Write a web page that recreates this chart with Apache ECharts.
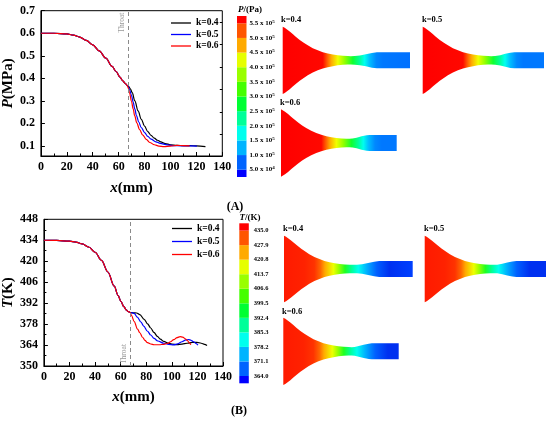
<!DOCTYPE html>
<html><head><meta charset="utf-8">
<script src="https://cdn.jsdelivr.net/npm/echarts@6/dist/echarts.min.js"></script>
<style>html,body{margin:0;padding:0;background:#fff}#c{width:550px;height:424px}</style>
</head><body><div id="c"></div>
<script>
// ---------------- data ----------------
const seriesNames = ['k=0.4', 'k=0.5', 'k=0.6'];
const xTicks = [0, 20, 40, 60, 80, 100, 120, 140];
const pTicks = [0.1, 0.2, 0.3, 0.4, 0.5, 0.6, 0.7];
const pMinorTicks = [0.15, 0.25, 0.35, 0.45, 0.55, 0.65];
const tTicks = [350, 364, 378, 392, 406, 420, 434, 448];
const throatX = 67.3;

const pCommon = [[0,0.600],[10,0.600],[20,0.597],[25,0.592],[30,0.583],[35,0.568],[40,0.548],[45,0.522],[50,0.490],[55,0.453],[58,0.430],[61,0.405],[63,0.390],[65,0.378],[66.5,0.369]];
const pTail04 = [[68,0.362],[69,0.353],[70.5,0.336],[72.5,0.300],[75,0.255],[77.5,0.218],[80,0.188],[82.5,0.163],[85,0.147],[87.5,0.134],[90,0.125],[92.5,0.118],[96,0.110],[100,0.105],[105,0.102],[110,0.101],[115,0.101],[120,0.100],[127,0.097]];
const pTail05 = [[67.5,0.362],[68.5,0.348],[70,0.322],[71.2,0.294],[72.5,0.264],[73.7,0.235],[75.5,0.206],[77.5,0.181],[80,0.159],[82.5,0.142],[85,0.130],[88.8,0.118],[92,0.111],[97.7,0.104],[103,0.101],[108,0.100],[115,0.100],[120.4,0.099]];
const pTail06 = [[67.2,0.360],[68.5,0.332],[69.9,0.298],[71.2,0.264],[72.4,0.234],[74,0.202],[76.2,0.172],[78.5,0.149],[81.3,0.129],[84,0.115],[87.6,0.105],[91,0.099],[95,0.097],[100,0.099],[105,0.102],[110,0.101],[114.8,0.100]];

const tCommon = [[0,434],[10,433.9],[20,433.4],[25,432.8],[30,431.6],[35,429.5],[40,426],[45,420.6],[50,412.8],[55,403.3],[58,397],[60.3,393],[62.5,389.6],[64.5,387.4],[66,386.3],[67.5,385.7]];
const tTail04 = [[70,385.5],[72.5,385.4],[75,384.3],[78.4,381.2],[81,378.2],[83.5,375.4],[86,372.5],[88.7,369.8],[91,367.9],[93.8,366.4],[97,365.3],[100,364.7],[104,364.3],[108,364.6],[112,365.2],[116,365.8],[119.6,365.8],[123,365.2],[125.5,364.5],[127.5,363.7]];
const tTail05 = [[69,385.5],[70.6,385.1],[73,382.6],[75.8,379.4],[78,376.6],[81,373.2],[83.5,370.7],[86.1,368.4],[89,366.7],[93.8,365.2],[97.5,364.5],[101.5,364.1],[104.5,364.8],[108,366.2],[111,367.4],[113.1,367.7],[115,367.2],[117,366.2],[119,365],[120.4,363.9]];
const tTail06 = [[68.5,383.6],[70.6,379.7],[73.2,374.6],[75,372.2],[77.1,369.2],[79,367.1],[81,365.6],[83.5,364.7],[86.1,364.2],[90,364.2],[93.8,364.5],[97,365.2],[99,366.2],[101.5,367.6],[104.1,369],[106.5,369.6],[108.5,369.3],[110.5,368.2],[112,367.1],[114,365.3],[114.8,364.2]];

// colour bar levels (label values, bottom to top)
const pLevels = [5.0e4, 1.0e5, 1.5e5, 2.0e5, 2.5e5, 3.0e5, 3.5e5, 4.0e5, 4.5e5, 5.0e5, 5.5e5];
const tLevels = [364.0, 371.1, 378.2, 385.3, 392.4, 399.5, 406.6, 413.7, 420.8, 427.9, 435.0];
const bandSizes = [0.5, 1, 1, 1, 1, 1, 1, 1, 1, 1, 1, 0.5];

// nozzle geometry: [axial position mm, half height mm]
const nozzleLengths = [127, 120.4, 114.8];
const nozzleInletHalf = 33.7;
const nozzleConv = [[0,33.7],[2,32.6],[4,31.2],[7,28.9],[10,26.3],[13,23.7],[17,20.5],[21,17.6],[25,15],[30,12.2],[35,10],[40,8.2],[45,6.8],[50,5.8],[55,5],[60,4.5],[65,4.25],[68,4.2]];
const nozzleDiv = [
  [[72,4.35],[77,4.8],[83,6],[89,7.3],[94,8],[127,8]],
  [[72,4.4],[77,5.2],[82,6.5],[87,7.6],[91,8],[120.4,8]],
  [[71,4.4],[75,5.3],[80,6.7],[85,7.7],[88,8],[114.8,8]]
];

// ---------------- styles ----------------
const FONT = "'Liberation Serif','Times New Roman',serif";
const lineColors = ['#000000', '#0000ff', '#ff0000'];
const bandColors = ['#0000ff','#0064ff','#00b4ff','#00ffee','#00ff99','#00ff33','#44ff00','#99ff00','#e6ff00','#ffaa00','#ff5500','#ff0000'];
const pContourStops = [[0,'#ff0000'],[40,'#ff0800'],[44,'#ff5500'],[48.6,'#ffaa00'],[55,'#f0ff00'],[62,'#90ff00'],[70,'#10ff30'],[76.7,'#00ff99'],[81.7,'#00ffee'],[86.6,'#00c0ff'],[93.3,'#0088ff'],[100,'#0078ff'],[127,'#0070ff']];
const tContourStops = [[0,'#ff1a00'],[20,'#ff2200'],[30,'#ff3300'],[36,'#ff6600'],[40.5,'#ffaa00'],[48.7,'#eeff00'],[53.6,'#a0ff00'],[60.2,'#20ff20'],[66.8,'#00ff99'],[73.3,'#00ffee'],[81.6,'#00b0ff'],[91.5,'#0060ff'],[104,'#0030f0'],[127,'#0040ff']];

const pData = [pCommon.concat(pTail04), pCommon.concat(pTail05), pCommon.concat(pTail06)];
const tData = [tCommon.concat(tTail04), tCommon.concat(tTail05), tCommon.concat(tTail06)];

const axisLabelStyle = {color:'#000', fontFamily:FONT, fontWeight:'bold', fontSize:12};
const nameStyle = {color:'#000', fontFamily:FONT, fontWeight:'bold', fontSize:15, rich:{i:{fontStyle:'italic', fontFamily:FONT, fontWeight:'bold', fontSize:15}}};
const blk = {lineStyle:{color:'#000', width:1}};

function xAxisFor(grid, gap) {
  return {gridIndex:grid, type:'value', min:0, max:140, interval:20,
    name:'{i|x}(mm)', nameLocation:'middle', nameGap:gap, nameTextStyle:nameStyle,
    axisLine:{show:true, ...blk}, axisTick:{inside:true, length:4, ...blk},
    minorTick:{show:true, splitNumber:2, length:2.5, ...blk},
    splitLine:{show:false}, axisLabel:{...axisLabelStyle, margin:5, customValues:xTicks}};
}

// grids
const grids = [
  {left:38, top:10.7, width:184.3, height:145.3, show:true, borderColor:'#000', borderWidth:1},
  {left:42.5, top:219.3, width:180.5, height:146.7, show:true, borderColor:'#000', borderWidth:1},
  {left:237, top:16, width:9.5, height:161},
  {left:239.3, top:223.3, width:9.5, height:160}
];
const nozzleBoxes = [
  [282.7, 26.7, 127.3, 67.3], [422.7, 26.7, 121.3, 67.3], [281, 109.3, 115.7, 67.4],
  [284, 235.7, 128.7, 66.6], [424.7, 235.7, 121.3, 66.6], [283.3, 317.7, 115.4, 67.3]
];
nozzleBoxes.forEach(b => grids.push({left:b[0], top:b[1], width:b[2], height:b[3]}));

const xAxes = [
  xAxisFor(0, 25),
  xAxisFor(1, 24),
  {gridIndex:2, type:'category', data:['cb'], show:false},
  {gridIndex:3, type:'category', data:['cb'], show:false}
];
const yAxes = [
  {gridIndex:0, type:'value', min:0.055, max:0.7,
    name:'{i|P}(MPa)', nameLocation:'middle', nameGap:17, nameTextStyle:nameStyle,
    axisLine:{show:true, ...blk}, axisTick:{inside:true, length:4, customValues:pTicks, ...blk},
    splitLine:{show:false}, axisLabel:{...axisLabelStyle, margin:6, customValues:pTicks, formatter:v=>v.toFixed(1)}},
  {gridIndex:0, type:'value', min:0.055, max:0.7, axisLine:{show:false},
    axisTick:{inside:true, length:2.5, customValues:pMinorTicks, ...blk}, axisLabel:{show:false}, splitLine:{show:false}},
  {gridIndex:1, type:'value', min:350, max:448, interval:14,
    name:'{i|T}(K)', nameLocation:'middle', nameGap:22, nameTextStyle:nameStyle,
    axisLine:{show:true, ...blk}, axisTick:{inside:true, length:4, ...blk},
    minorTick:{show:true, splitNumber:2, length:2.5, ...blk},
    splitLine:{show:false}, axisLabel:{...axisLabelStyle, margin:6}},
  {gridIndex:2, type:'value', min:0, max:11, show:false},
  {gridIndex:2, type:'category', position:'right', data:pLevels.map(v=>{const e=Math.floor(Math.log10(v)+1e-9); return (v/Math.pow(10,e)).toFixed(1)+'|'+e;}),
    axisLine:{show:false}, axisTick:{show:false},
    axisLabel:{margin:3, interval:0, formatter:s=>{const a=s.split('|'); return '{m|'+a[0]+' x 10}{s|'+a[1]+'}';},
      rich:{m:{fontFamily:FONT, fontWeight:'bold', fontSize:7, color:'#000', lineHeight:8},
            s:{fontFamily:FONT, fontWeight:'bold', fontSize:5, color:'#000', verticalAlign:'top', lineHeight:4}}}},
  {gridIndex:3, type:'value', min:0, max:11, show:false},
  {gridIndex:3, type:'category', position:'right', data:tLevels.map(v=>v.toFixed(1)),
    axisLine:{show:false}, axisTick:{show:false},
    axisLabel:{margin:5, interval:0, fontFamily:FONT, fontWeight:'bold', fontSize:6.5, color:'#000'}}
];
for (let i = 0; i < 6; i++) {
  const L = nozzleLengths[i % 3];
  xAxes.push({gridIndex:4+i, type:'value', min:0, max:L, show:false});
  yAxes.push({gridIndex:4+i, type:'value', min:-nozzleInletHalf, max:nozzleInletHalf, show:false});
}

const series = [];
// line charts
seriesNames.forEach((n, i) => {
  const base = {type:'line', name:n, showSymbol:false, symbol:'none', smooth:0.35, smoothMonotone:'x',
    lineStyle:{width:1.2, color:lineColors[i]}, itemStyle:{color:lineColors[i]}, z:3};
  const a = {...base, xAxisIndex:0, yAxisIndex:0, data:pData[i]};
  const b = {...base, xAxisIndex:1, yAxisIndex:2, data:tData[i]};
  if (i === 0) {
    const ml = (pos) => ({silent:true, symbol:['none','none'], animation:false,
      lineStyle:{type:[4,3], color:'#8a8a8a', width:1},
      label:{show:true, formatter:'Throat', position:pos, distance:2, color:'#999', fontSize:7.5, fontFamily:FONT},
      data:[{xAxis:throatX}]});
    a.markLine = ml('insideEndTop');
    b.markLine = ml('insideStartTop');
  }
  series.push(a, b);
});
// colour bars (stacked bands, bottom to top)
bandSizes.forEach((h, k) => {
  series.push({type:'bar', xAxisIndex:2, yAxisIndex:3, stack:'p', barWidth:'100%', data:[h], itemStyle:{color:bandColors[k]}, silent:true});
  series.push({type:'bar', xAxisIndex:3, yAxisIndex:5, stack:'t', barWidth:'100%', data:[h], itemStyle:{color:bandColors[k]}, silent:true});
});
// nozzle contours
function gradient(stops, L) {
  const cs = [];
  stops.forEach(s => { if (s[0] <= L) cs.push({offset:s[0]/L, color:s[1]}); });
  cs.push({offset:1, color:cs[cs.length-1].color});
  return new echarts.graphic.LinearGradient(0, 0, 1, 0, cs);
}
for (let i = 0; i < 6; i++) {
  const k = i % 3, L = nozzleLengths[k];
  const profile = nozzleConv.concat(nozzleDiv[k]);
  const stops = i < 3 ? pContourStops : tContourStops;
  series.push({type:'custom', xAxisIndex:4+i, yAxisIndex:7+i, data:[0], silent:true, clip:false,
    renderItem:(params, api) => {
      const top = profile.map(p => api.coord([p[0], p[1]]));
      const bot = profile.slice().reverse().map(p => api.coord([p[0], -p[1]]));
      return {type:'polygon', shape:{points:top.concat(bot)}, style:{fill:gradient(stops, L)}};
    }});
}

const txt = (x, y, text, size, extra) => ({type:'text', x, y,
  style:Object.assign({text, fontFamily:FONT, fontWeight:'bold', fontSize:size, fill:'#000', align:'left', verticalAlign:'middle'}, extra || {})});
const richI = (size) => ({rich:{i:{fontStyle:'italic', fontFamily:FONT, fontWeight:'bold', fontSize:size}}});

const graphic = [
  txt(281, 19.5, 'k=0.4', 8.5), txt(422, 19.5, 'k=0.5', 8.5), txt(280, 102.5, 'k=0.6', 8.5),
  txt(283, 229, 'k=0.4', 8.5), txt(424, 229, 'k=0.5', 8.5), txt(282, 311.5, 'k=0.6', 8.5),
  txt(250, 10, '{i|P}/(Pa)', 9, Object.assign({align:'center'}, richI(9))),
  txt(250, 217.5, '{i|T}/(K)', 9, Object.assign({align:'center'}, richI(9))),
  txt(235, 207, '(A)', 12, {align:'center'}),
  txt(239, 411, '(B)', 12, {align:'center'})
];

const legendBase = {orient:'vertical', itemWidth:20, itemHeight:1.3, icon:'rect', data:seriesNames,
  textStyle:{fontFamily:FONT, fontWeight:'bold', fontSize:9.5, color:'#000', lineHeight:9}, selectedMode:false};

const chart = echarts.init(document.getElementById('c'), null, {renderer:'canvas'});
chart.setOption({
  animation:false,
  backgroundColor:'#fff',
  grid:grids, xAxis:xAxes, yAxis:yAxes, series,
  legend:[Object.assign({left:166, top:13, itemGap:1.5}, legendBase), Object.assign({left:167, top:218.5, itemGap:3}, legendBase)],
  graphic
});
</script></body></html>
